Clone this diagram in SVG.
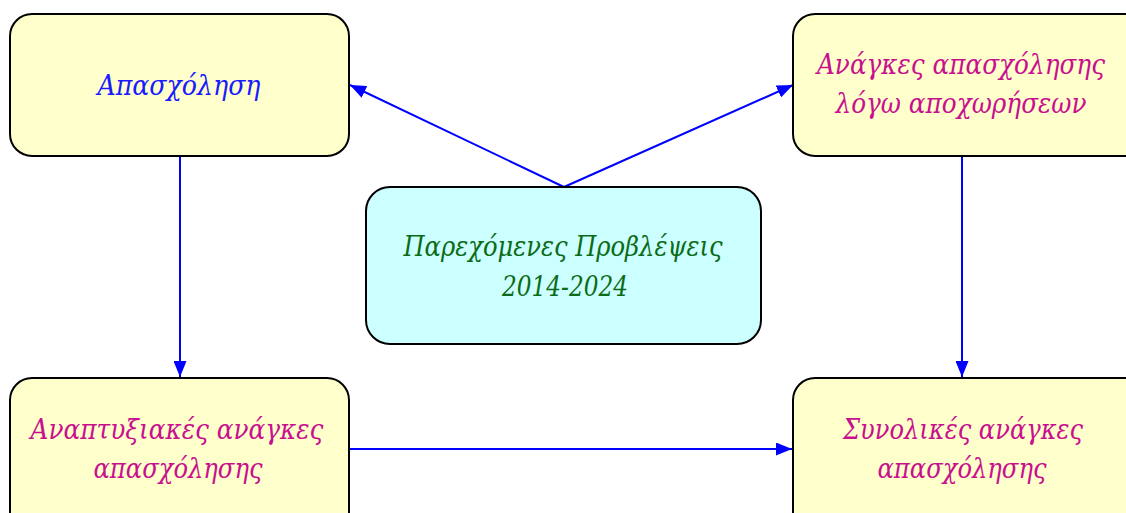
<svg xmlns="http://www.w3.org/2000/svg" width="1126" height="513" viewBox="0 0 1126 513">
<style>
.box{stroke:#000;stroke-width:2}
.y{fill:#ffffcc}
.c{fill:#ccffff}
text{font-family:"DejaVu Serif","Liberation Serif",serif;font-style:italic;font-size:28px;text-anchor:middle}
.m{fill:#c8108f}
.b{fill:#1a1aff}
.g{fill:#0b6b17}
.e{stroke:#0000ff;stroke-width:2;fill:none;marker-end:url(#ah)}
</style>
<defs>
<marker id="ah" viewBox="0 0 16 13" refX="16" refY="6.5" markerWidth="16" markerHeight="13" markerUnits="userSpaceOnUse" orient="auto">
<path d="M0,0 L16,6.5 L0,13 Z" fill="#0000ff"/>
</marker>
</defs>
<g id="edges">
<line class="e" x1="564" y1="187" x2="350" y2="85"/>
<line class="e" x1="564" y1="187" x2="793" y2="85"/>
<line class="e" x1="180" y1="156" x2="180" y2="377"/>
<line class="e" x1="962" y1="156" x2="962" y2="377"/>
<line class="e" x1="349" y1="449" x2="792" y2="449"/>
</g>
<g id="n1">
<rect class="box y" x="10" y="14" width="339" height="142" rx="22"/>
<text class="b" x="179" y="95" textLength="163" lengthAdjust="spacingAndGlyphs">Απασχόληση</text>
</g>
<g id="n2">
<rect class="box y" x="793" y="14" width="360" height="142" rx="22"/>
<text class="m" x="961" y="74" textLength="288" lengthAdjust="spacingAndGlyphs">Ανάγκες απασχόλησης</text>
<text class="m" x="961" y="113" textLength="251" lengthAdjust="spacingAndGlyphs">λόγω αποχωρήσεων</text>
</g>
<g id="n3">
<rect class="box c" x="366" y="187" width="395" height="157" rx="24"/>
<text class="g" x="563" y="256" textLength="319" lengthAdjust="spacingAndGlyphs">Παρεχόμενες Προβλέψεις</text>
<text class="g" x="565" y="296" textLength="126" lengthAdjust="spacingAndGlyphs">2014-2024</text>
</g>
<g id="n4">
<rect class="box y" x="10" y="378" width="339" height="160" rx="22"/>
<text class="m" x="177" y="439" textLength="293" lengthAdjust="spacingAndGlyphs">Αναπτυξιακές ανάγκες</text>
<text class="m" x="178" y="478" textLength="169" lengthAdjust="spacingAndGlyphs">απασχόλησης</text>
</g>
<g id="n5">
<rect class="box y" x="793" y="378" width="360" height="160" rx="22"/>
<text class="m" x="963" y="439" textLength="240" lengthAdjust="spacingAndGlyphs">Συνολικές ανάγκες</text>
<text class="m" x="962" y="478" textLength="169" lengthAdjust="spacingAndGlyphs">απασχόλησης</text>
</g>
</svg>
